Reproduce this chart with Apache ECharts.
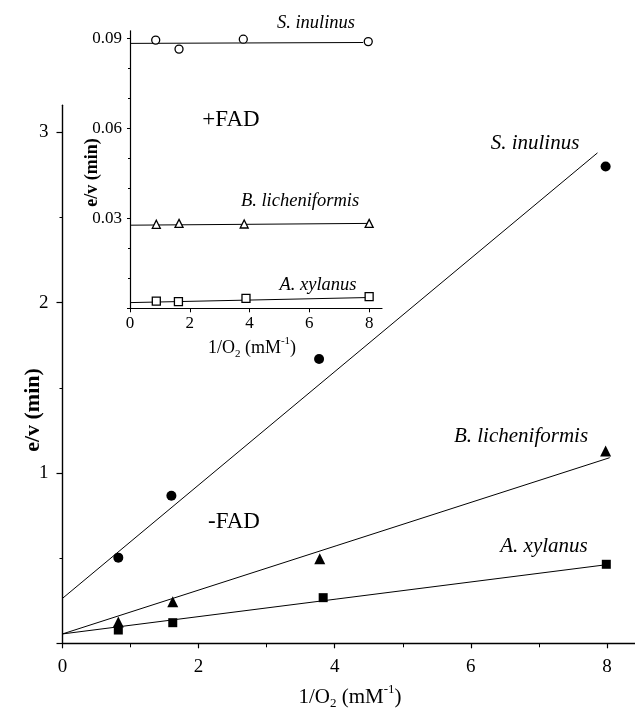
<!DOCTYPE html>
<html>
<head>
<meta charset="utf-8">
<script src="https://cdn.jsdelivr.net/npm/echarts@6/dist/echarts.min.js"></script>
<style>html,body{margin:0;padding:0;background:#fff}#c{width:635px;height:718px}</style>
</head>
<body>
<div id="c"></div>
<script>
// ---- main plot (-FAD), filled symbols ----
const inulinusX = [0.82, 1.60, 3.77, 7.98];
const inulinusY = [0.503, 0.867, 1.67, 2.80];
const licheniX = [0.82, 1.62, 3.78, 7.98];
const licheniY = [0.125, 0.244, 0.497, 1.13];
const xylanusX = [0.82, 1.62, 3.83, 7.99];
const xylanusY = [0.078, 0.121, 0.268, 0.464];
const inulinusFit = [[0, 0.264], [7.86, 2.88]];
const licheniFit = [[0, 0.055], [8.04, 1.09]];
const xylanusFit = [[0, 0.055], [8.04, 0.464]];
// ---- inset (+FAD), open symbols ----
const inulinusInsetX = [0.86, 1.64, 3.79, 7.97];
const inulinusInsetY = [0.0894, 0.0864, 0.0897, 0.0889];
const licheniInsetX = [0.88, 1.64, 3.82, 8.0];
const licheniInsetY = [0.0280, 0.0283, 0.0281, 0.0283];
const xylanusInsetX = [0.88, 1.62, 3.88, 8.0];
const xylanusInsetY = [0.0024, 0.0022, 0.0033, 0.0039];
const inulinusInsetFit = [[0, 0.0883], [7.8, 0.0886]];
const licheniInsetFit = [[0, 0.0277], [8.0, 0.0283]];
const xylanusInsetFit = [[0, 0.0019], [8.0, 0.0036]];
// ---- ticks ----
const mainXTicks = [0, 2, 4, 6, 8];
const mainXMinor = [1, 3, 5, 7];
const mainYTicks = [0, 1, 2, 3];
const mainYMinor = [0.5, 1.5, 2.5];
const insetXTicks = [0, 2, 4, 6, 8];
const insetYTicks = [0, 0.03, 0.06, 0.09];
const insetYLabels = [0.03, 0.06, 0.09];
const insetYMinor = [0.01, 0.02, 0.04, 0.05, 0.07, 0.08];

const FONT = 'Liberation Serif';
const zip = (xs, ys) => xs.map((x, i) => [x, ys[i]]);

const chart = echarts.init(document.getElementById('c'), null, {renderer: 'canvas'});

function axisBase(extra) {
  return Object.assign({
    type: 'value',
    splitLine: {show: false},
    axisLine: {show: true, onZero: false, lineStyle: {color: '#000', width: 1.4}},
    axisTick: {show: true, inside: false, length: 5, lineStyle: {color: '#000', width: 1.2}},
    axisLabel: {color: '#000', fontFamily: FONT}
  }, extra);
}
function minorAxis(extra, values, len) {
  return Object.assign({
    type: 'value',
    splitLine: {show: false},
    axisLine: {show: false, onZero: false},
    axisLabel: {show: false},
    axisTick: {show: true, length: len, customValues: values, lineStyle: {color: '#000', width: 1}}
  }, extra);
}

const lineS = (data, xi, yi) => ({
  type: 'line', data, xAxisIndex: xi, yAxisIndex: yi, symbol: 'none',
  lineStyle: {color: '#000', width: 1}, silent: true, z: 2
});
const filled = (data, sym, size) => ({
  type: 'scatter', data, xAxisIndex: 0, yAxisIndex: 0, symbol: sym, symbolSize: size,
  itemStyle: {color: '#000', opacity: 1}, z: 3
});
const open = (data, sym, size) => ({
  type: 'scatter', data, xAxisIndex: 2, yAxisIndex: 2, symbol: sym, symbolSize: size,
  itemStyle: {color: '#fff', borderColor: '#000', borderWidth: 1.3, opacity: 1}, z: 3
});

const italic = (t, x, y, s) => ({type: 'text', x, y, style: {text: t, fontFamily: FONT, fontStyle: 'italic', fontSize: s, fill: '#000', align: 'center', verticalAlign: 'middle'}});
const plain = (t, x, y, s) => ({type: 'text', x, y, style: {text: t, fontFamily: FONT, fontSize: s, fill: '#000', align: 'center', verticalAlign: 'middle'}});
const xTitle = (x, y, s) => ({type: 'text', x, y, style: {
  text: '1/O{sub|2} (mM{sup|-1})', fontFamily: FONT, fontSize: s, fill: '#000', align: 'center', verticalAlign: 'middle', lineHeight: s + 6,
  rich: {
    sub: {fontFamily: FONT, fontSize: Math.round(s * 0.62), lineHeight: Math.round(s * 0.7), verticalAlign: 'bottom'},
    sup: {fontFamily: FONT, fontSize: Math.round(s * 0.62), lineHeight: Math.round(s * 0.7), verticalAlign: 'top'}
  }
}});
const yTitle = (x, y, s) => ({type: 'text', x, y, rotation: Math.PI / 2, style: {text: 'e/v (min)', fontFamily: FONT, fontWeight: 'bold', fontSize: s, fill: '#000', align: 'center', verticalAlign: 'middle'}});

chart.setOption({
  backgroundColor: '#fff',
  animation: false,
  grid: [
    {left: 62.5, top: 105.2, width: 572.4, height: 538.1},
    {left: 130, top: 30.8, width: 252, height: 277.5}
  ],
  xAxis: [
    axisBase({gridIndex: 0, position: 'bottom', min: 0, max: 8.41,
      axisTick: {show: true, length: 5, customValues: mainXTicks, lineStyle: {color: '#000', width: 1.2}},
      axisLabel: {color: '#000', fontFamily: FONT, fontSize: 19, margin: 14, customValues: mainXTicks}}),
    minorAxis({gridIndex: 0, position: 'bottom', min: 0, max: 8.41}, mainXMinor, 4),
    axisBase({gridIndex: 1, position: 'bottom', min: 0, max: 8.43,
      axisLine: {show: true, onZero: false, lineStyle: {color: '#000', width: 1.2}},
      axisTick: {show: true, length: 4, customValues: insetXTicks, lineStyle: {color: '#000', width: 1}},
      axisLabel: {color: '#000', fontFamily: FONT, fontSize: 17, margin: 7, customValues: insetXTicks}})
  ],
  yAxis: [
    axisBase({gridIndex: 0, position: 'left', min: 0, max: 3.16,
      axisTick: {show: true, length: 6, customValues: mainYTicks, lineStyle: {color: '#000', width: 1.2}},
      axisLabel: {color: '#000', fontFamily: FONT, fontSize: 19, margin: 14, customValues: [1, 2, 3]}}),
    minorAxis({gridIndex: 0, position: 'left', min: 0, max: 3.16}, mainYMinor, 3),
    axisBase({gridIndex: 1, position: 'left', min: 0, max: 0.0925,
      axisLine: {show: true, onZero: false, lineStyle: {color: '#000', width: 1.2}},
      axisTick: {show: true, length: 3, customValues: insetYTicks, lineStyle: {color: '#000', width: 1}},
      axisLabel: {color: '#000', fontFamily: FONT, fontSize: 17, margin: 8, customValues: insetYLabels,
        formatter: v => v.toFixed(2)}}),
    minorAxis({gridIndex: 1, position: 'left', min: 0, max: 0.0925}, insetYMinor, 2)
  ],
  series: [
    lineS(inulinusFit, 0, 0),
    lineS(licheniFit, 0, 0),
    lineS(xylanusFit, 0, 0),
    filled(zip(inulinusX, inulinusY), 'circle', 10),
    filled(zip(licheniX, licheniY), 'triangle', 11),
    filled(zip(xylanusX, xylanusY), 'rect', 9),
    lineS(inulinusInsetFit, 2, 2),
    lineS(licheniInsetFit, 2, 2),
    lineS(xylanusInsetFit, 2, 2),
    open(zip(inulinusInsetX, inulinusInsetY), 'circle', 8),
    open(zip(licheniInsetX, licheniInsetY), 'triangle', 8),
    open(zip(xylanusInsetX, xylanusInsetY), 'rect', 8)
  ],
  graphic: [
    italic('S. inulinus', 535, 143, 21),
    italic('B. licheniformis', 521, 436, 21),
    italic('A. xylanus', 544, 546, 21),
    plain('-FAD', 234, 522, 23),
    italic('S. inulinus', 316, 23, 18.5),
    italic('B. licheniformis', 300, 201, 18.5),
    italic('A. xylanus', 318, 285, 18.5),
    plain('+FAD', 231, 120, 23),
    yTitle(33, 410, 22),
    yTitle(92.5, 172.5, 18),
    xTitle(350, 697, 21),
    xTitle(252, 348, 18)
  ]
});
</script>
</body>
</html>
